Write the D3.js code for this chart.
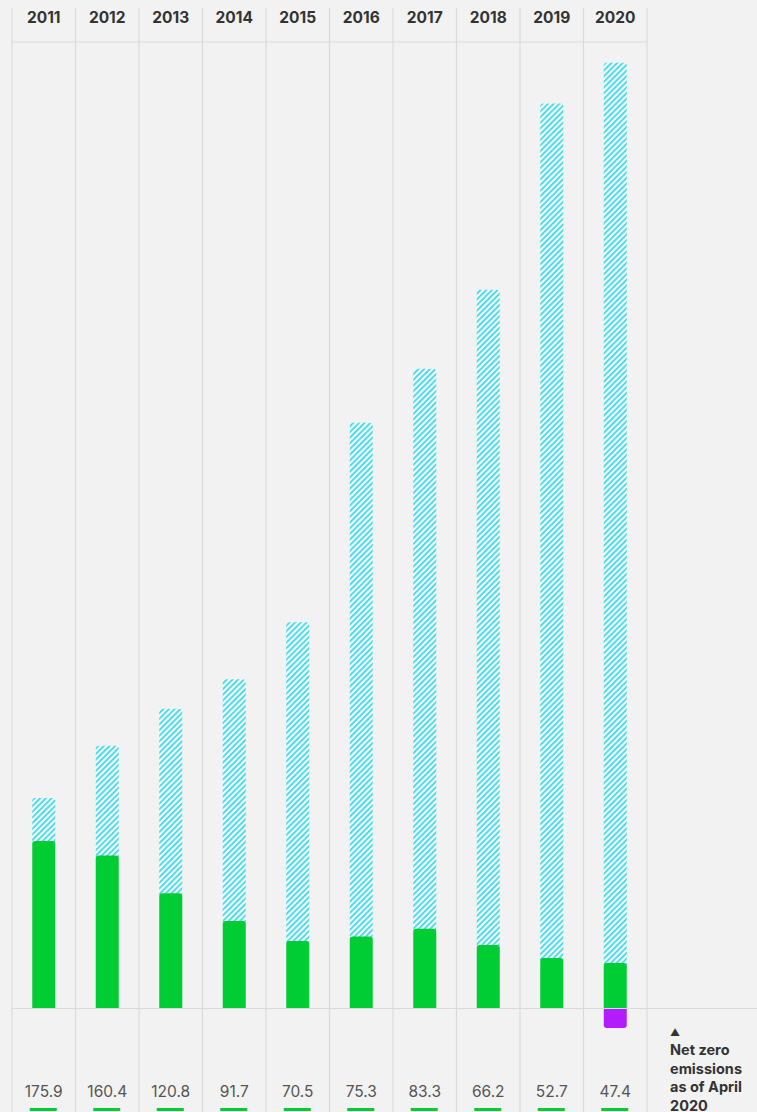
<!DOCTYPE html>
<html>
<head>
    <meta charset="utf-8">
    <title></title>
    <style>
        body {
            margin: 0;
            background: #f2f2f2;
        }
        svg {
            display: block;
            font-family: Inter, "Noto Sans", sans-serif;
        }
        .grid {
            stroke: #dadada;
            stroke-width: 1.2px;
        }
        .year {
            font-size: 15.5px;
            font-weight: 700;
            fill: #333;
        }
        .value {
            font-size: 15.5px;
            fill: #555;
        }
        .note {
            font-size: 14.5px;
            font-weight: 700;
            fill: #333;
        }
    </style>
</head>
<body>
<script src="https://cdnjs.cloudflare.com/ajax/libs/d3/7.8.5/d3.min.js"></script>
<script>
    var width = 757;
    var height = 1112;

    // values
    var years = ["2011", "2012", "2013", "2014", "2015", "2016", "2017", "2018", "2019", "2020"];
    var emissions = [175.9, 160.4, 120.8, 91.7, 70.5, 75.3, 83.3, 66.2, 52.7, 47.4];
    var totals = [221, 276, 315, 346, 406, 616, 673, 756, 952, 995];
    var offsets = [0, 0, 0, 0, 0, 0, 0, 0, 0, -20];
    var noteLines = ["Net zero", "emissions", "as of April", "2020"];

    var data = years.map(function(y, i) {
        return {year: y, value: emissions[i], total: totals[i], offset: offsets[i]};
    });

    var x = d3.scaleBand().domain(years).range([12, 647]);
    var y = d3.scaleLinear().domain([0, 1000]).range([1008, 58]);
    var barW = 23;
    var r = 3;

    var svg = d3.select("body").append("svg")
            .attr("width", width)
            .attr("height", height);

    var defs = svg.append("defs");
    var pat = defs.append("pattern")
            .attr("id", "hatch")
            .attr("patternUnits", "userSpaceOnUse")
            .attr("width", 4)
            .attr("height", 4)
            .attr("patternTransform", "rotate(45)");
    pat.append("rect").attr("width", 4).attr("height", 4).attr("fill", "#fbfbfb");
    pat.append("rect").attr("width", 1.7).attr("height", 4).attr("fill", "#2ed9ee");

    // grid
    var edges = years.map(function(d) {return x(d);}).concat([647]);
    svg.selectAll(".vline").data(edges).enter().append("line")
            .attr("class", "grid")
            .attr("x1", function(d) {return d;})
            .attr("x2", function(d) {return d;})
            .attr("y1", 8)
            .attr("y2", height);
    svg.append("line").attr("class", "grid")
            .attr("x1", 12).attr("x2", 647).attr("y1", 42).attr("y2", 42);
    svg.append("line").attr("class", "grid")
            .attr("x1", 12).attr("x2", width).attr("y1", y(0) + 0.5).attr("y2", y(0) + 0.5);

    function topRounded(x0, y0, w, y1) {
        var rr = Math.min(r, (y1 - y0) / 2);
        return "M" + x0 + "," + y1 + "V" + (y0 + rr) + "Q" + x0 + "," + y0 + " " + (x0 + rr) + "," + y0 +
            "H" + (x0 + w - rr) + "Q" + (x0 + w) + "," + y0 + " " + (x0 + w) + "," + (y0 + rr) + "V" + y1 + "Z";
    }
    function bottomRounded(x0, y0, w, y1) {
        var rr = Math.min(r, (y1 - y0) / 2);
        return "M" + x0 + "," + y0 + "V" + (y1 - rr) + "Q" + x0 + "," + y1 + " " + (x0 + rr) + "," + y1 +
            "H" + (x0 + w - rr) + "Q" + (x0 + w) + "," + y1 + " " + (x0 + w) + "," + (y1 - rr) + "V" + y0 + "Z";
    }
    function barX(d) {return x(d.year) + x.bandwidth() / 2 - barW / 2;}

    var g = svg.selectAll(".bar").data(data).enter().append("g");

    g.append("path")
            .attr("fill", "url(#hatch)")
            .attr("d", function(d) {return topRounded(barX(d), y(d.total), barW, y(d.value) + 2);});

    g.append("path")
            .attr("fill", "#00cc33")
            .attr("d", function(d) {return topRounded(barX(d), y(d.value), barW, y(0));});

    g.filter(function(d) {return d.offset < 0;}).append("path")
            .attr("fill", "#b31cff")
            .attr("d", function(d) {return bottomRounded(barX(d), y(0) + 1, barW, y(d.offset) + 1);});

    // header years
    svg.selectAll(".year").data(years).enter().append("text")
            .attr("class", "year")
            .attr("x", function(d) {return x(d) + x.bandwidth() / 2;})
            .attr("y", 23)
            .attr("text-anchor", "middle")
            .text(function(d) {return d;});

    // value labels
    svg.selectAll(".value").data(data).enter().append("text")
            .attr("class", "value")
            .attr("x", function(d) {return x(d.year) + x.bandwidth() / 2;})
            .attr("y", 1097)
            .attr("text-anchor", "middle")
            .text(function(d) {return d.value.toFixed(1);});

    svg.selectAll(".mark").data(data).enter().append("rect")
            .attr("fill", "#00cc33")
            .attr("x", function(d) {return x(d.year) + x.bandwidth() / 2 - 14;})
            .attr("y", 1108)
            .attr("width", 27)
            .attr("height", 3);

    // annotation
    svg.append("text")
            .attr("x", 670)
            .attr("y", 1036)
            .attr("font-size", 10)
            .attr("fill", "#333")
            .text("\u25B2");

    svg.selectAll(".note").data(noteLines).enter().append("text")
            .attr("class", "note")
            .attr("x", 670)
            .attr("y", function(d, i) {return 1055 + i * 18.5;})
            .text(function(d) {return d;});

</script>
</body>
</html>
